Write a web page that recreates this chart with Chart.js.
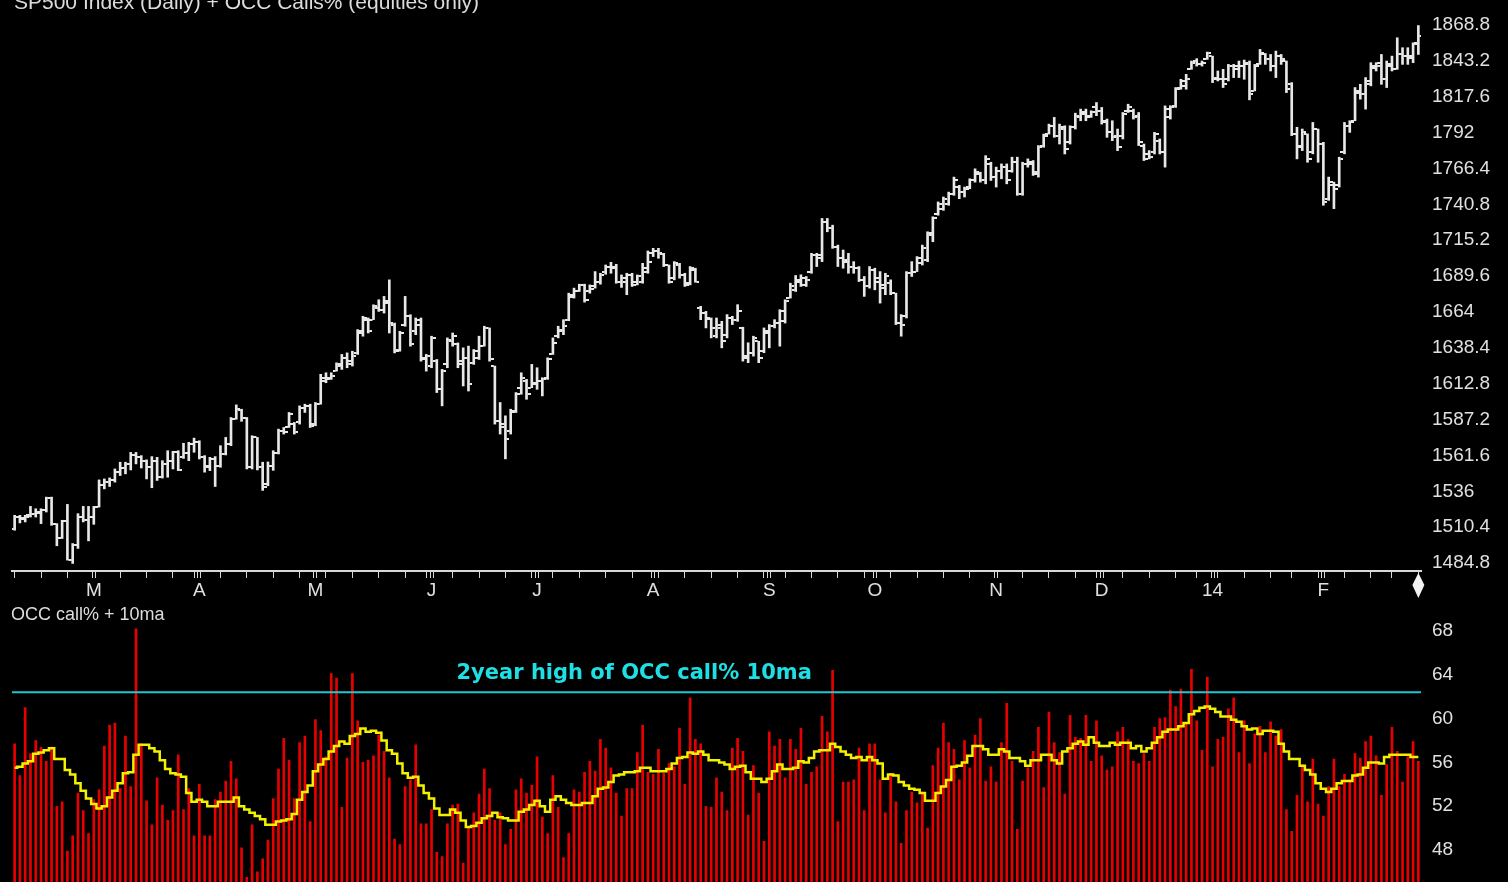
<!DOCTYPE html>
<html><head><meta charset="utf-8">
<script src="https://cdn.jsdelivr.net/npm/chart.js@4.4.1/dist/chart.umd.min.js"></script>
<style>
html,body{margin:0;padding:0;background:#000;width:1508px;height:882px;overflow:hidden;}
canvas{position:absolute;left:0;}
#top{top:0;}
#bot{top:598px;}
</style></head><body>
<canvas id="top" width="1508" height="606"></canvas>
<canvas id="bot" width="1508" height="284"></canvas>
<script>
// ---------- DATA ----------
const topTitle = 'SP500 Index (Daily) + OCC Calls% (equities only)';
const lowerTitle = 'OCC call% + 10ma';
const noteText = '2year high of OCC call% 10ma';
const twoYearHigh = 62.4;

const openP = [
1509.0,1517.7,1516.5,1518.9,1520.1,1521.3,1522.5,1531.4,1512.5,1502.4,
1514.9,1487.0,1497.6,1517.7,1515.4,1517.7,1524.8,1540.2,1542.6,1544.2,
1549.7,1552.7,1555.6,1562.2,1560.8,1557.9,1553.2,1557.9,1546.1,1555.6,
1557.9,1563.9,1560.3,1563.2,1569.8,1571.0,1560.3,1554.4,1559.1,1554.4,
1562.7,1569.8,1587.5,1593.9,1588.7,1553.2,1574.5,1553.2,1541.0,1554.0,
1563.2,1579.2,1581.6,1584.0,1585.2,1595.8,1597.0,1584.0,1598.2,1614.7,
1617.1,1621.8,1625.4,1631.3,1628.9,1634.8,1649.0,1658.5,1658.5,1666.8,
1665.6,1671.5,1655.0,1637.2,1655.0,1660.9,1650.2,1658.5,1631.3,1625.4,
1628.9,1608.8,1626.6,1643.1,1640.8,1628.9,1631.3,1627.7,1631.3,1639.6,
1652.6,1625.4,1586.4,1584.0,1579.3,1592.3,1610.0,1614.7,1610.0,1612.4,
1614.7,1617.1,1634.2,1646.7,1650.2,1658.5,1674.5,1679.1,1682.9,1678.6,
1682.2,1685.7,1692.8,1696.4,1696.4,1685.7,1685.7,1690.4,1685.7,1685.7,
1692.8,1705.8,1707.5,1705.1,1697.5,1688.1,1697.5,1690.4,1684.5,1694.0,
1666.8,1663.2,1659.2,1646.7,1652.6,1647.9,1659.7,1658.5,1652.6,1632.5,
1634.9,1643.1,1636.0,1649.0,1653.8,1656.1,1657.3,1673.9,1679.8,1685.7,
1683.4,1692.8,1704.6,1702.3,1728.3,1723.6,1710.6,1702.3,1699.9,1696.4,
1695.2,1686.9,1682.2,1694.0,1688.1,1683.4,1684.5,1677.4,1656.1,1660.9,
1691.6,1692.8,1698.7,1701.1,1718.8,1734.0,1737.7,1741.3,1748.3,1753.1,
1749.5,1753.1,1757.8,1762.5,1757.8,1769.6,1760.2,1764.9,1767.3,1764.9,
1770.8,1748.3,1769.6,1769.6,1762.5,1782.7,1790.9,1796.8,1789.7,1794.5,
1785.0,1795.7,1802.8,1805.1,1804.0,1809.9,1807.5,1800.4,1792.1,1789.7,
1789.7,1807.5,1807.5,1804.0,1782.7,1776.7,1778.0,1786.2,1777.9,1802.8,
1811.0,1824.1,1825.3,1837.1,1843.0,1840.6,1844.2,1846.5,1831.2,1830.0,
1830.0,1839.4,1837.1,1839.4,1840.6,1821.7,1840.6,1847.7,1844.2,1839.4,
1846.5,1843.0,1826.4,1791.0,1781.5,1790.9,1778.0,1794.5,1783.9,1744.8,
1754.3,1754.3,1778.0,1796.9,1800.4,1820.5,1819.3,1826.4,1838.2,1841.8,
1830.0,1839.4,1837.1,1847.7,1846.5,1845.4,1856.0];

const highP = [
1518.9,1518.9,1518.9,1525.3,1523.6,1523.6,1531.9,1531.9,1513.0,1515.4,
1526.7,1498.8,1520.1,1525.3,1525.3,1525.3,1544.2,1544.9,1545.6,1552.0,
1556.8,1556.8,1563.8,1563.8,1561.5,1558.5,1560.8,1560.3,1557.9,1565.0,
1564.6,1565.0,1570.3,1571.0,1574.0,1572.1,1561.5,1560.3,1560.8,1568.6,
1574.5,1588.7,1597.7,1594.6,1588.7,1575.7,1574.5,1556.8,1557.0,1565.0,
1580.4,1581.6,1592.3,1585.2,1597.0,1598.2,1598.2,1599.4,1619.5,1620.6,
1620.6,1627.7,1633.7,1634.8,1636.0,1651.4,1660.9,1659.7,1669.1,1672.7,
1675.1,1686.9,1656.1,1650.2,1675.1,1662.0,1659.7,1659.7,1633.7,1646.7,
1630.1,1623.0,1645.5,1649.0,1641.9,1638.4,1639.6,1637.2,1646.7,1653.8,
1652.6,1625.4,1599.4,1589.9,1594.6,1606.5,1620.6,1615.9,1626.6,1624.2,
1617.1,1631.3,1645.5,1653.8,1658.5,1677.4,1681.0,1683.8,1683.8,1683.3,
1692.8,1691.6,1697.5,1699.4,1698.0,1690.4,1691.6,1691.6,1690.4,1698.7,
1707.5,1709.4,1709.4,1705.8,1697.5,1699.9,1698.7,1691.6,1696.4,1695.2,
1668.0,1664.4,1659.7,1659.7,1657.3,1662.1,1660.9,1669.2,1653.1,1642.0,
1646.7,1643.1,1652.6,1655.0,1658.5,1665.6,1672.7,1684.5,1690.0,1690.5,
1689.3,1705.8,1705.8,1730.7,1730.7,1725.9,1711.7,1708.2,1705.8,1699.9,
1696.4,1689.3,1696.4,1695.2,1692.8,1691.6,1686.9,1677.4,1662.1,1692.8,
1699.9,1703.5,1711.7,1721.2,1731.9,1742.5,1746.0,1749.5,1760.2,1754.3,
1753.1,1759.0,1766.1,1763.7,1775.5,1770.8,1767.3,1769.6,1769.6,1774.4,
1774.4,1770.8,1773.2,1772.0,1782.7,1790.9,1798.0,1802.8,1798.0,1796.8,
1796.8,1805.8,1808.7,1808.7,1807.5,1813.4,1809.9,1801.6,1800.4,1794.5,
1806.3,1812.2,1808.7,1806.3,1783.8,1779.1,1792.1,1787.4,1811.0,1811.1,
1824.1,1830.0,1833.5,1843.0,1844.7,1843.0,1849.4,1846.5,1835.9,1837.1,
1840.6,1840.6,1843.0,1843.7,1843.0,1840.6,1851.3,1848.4,1847.7,1850.1,
1847.7,1843.0,1827.6,1795.7,1794.5,1791.0,1799.2,1794.5,1785.0,1760.2,
1756.6,1774.4,1799.2,1800.4,1824.1,1826.4,1831.2,1841.8,1841.8,1847.7,
1843.0,1846.5,1859.6,1852.5,1852.5,1856.0,1868.3];

const lowP = [
1508.3,1513.5,1514.2,1517.7,1517.7,1513.0,1521.3,1511.8,1497.2,1502.4,
1487.0,1484.6,1495.3,1514.2,1500.7,1512.5,1524.8,1537.8,1539.5,1542.6,
1547.3,1548.5,1551.3,1555.6,1552.7,1544.9,1538.6,1543.8,1545.5,1546.1,
1552.0,1550.8,1559.5,1557.9,1563.9,1559.1,1549.7,1550.8,1539.5,1553.2,
1562.0,1568.6,1587.5,1586.0,1552.0,1552.0,1551.3,1536.7,1540.0,1551.0,
1562.7,1576.9,1581.6,1576.9,1584.0,1592.3,1581.6,1582.8,1598.2,1613.5,
1615.9,1621.8,1623.0,1624.2,1625.4,1633.7,1646.7,1649.0,1658.5,1664.4,
1663.2,1649.0,1634.8,1636.0,1653.8,1639.6,1647.8,1628.9,1621.8,1624.2,
1606.5,1597.0,1624.2,1639.6,1624.2,1611.2,1607.6,1626.6,1630.1,1639.6,
1628.9,1584.0,1576.9,1559.2,1576.9,1592.3,1605.3,1601.7,1610.0,1608.8,
1604.1,1615.9,1633.7,1645.5,1647.8,1657.8,1673.9,1678.6,1671.0,1677.4,
1681.0,1683.8,1690.9,1691.6,1684.5,1681.5,1676.3,1682.2,1683.3,1684.5,
1691.6,1703.5,1702.3,1696.4,1684.5,1686.9,1688.1,1682.2,1683.3,1685.2,
1658.5,1652.6,1645.5,1645.5,1638.4,1645.5,1655.0,1657.3,1628.9,1627.8,
1632.5,1627.8,1634.9,1638.4,1652.6,1639.6,1656.1,1673.9,1678.6,1682.2,
1682.2,1691.6,1696.4,1699.9,1721.2,1709.4,1696.4,1695.2,1691.6,1691.6,
1685.7,1675.1,1681.0,1679.8,1670.3,1676.3,1676.3,1655.0,1646.7,1659.7,
1689.3,1692.8,1697.5,1699.9,1714.1,1733.0,1736.5,1740.1,1747.2,1744.8,
1746.0,1751.9,1756.6,1756.6,1755.4,1757.8,1753.1,1759.0,1755.4,1763.7,
1747.2,1747.2,1767.3,1761.4,1760.2,1781.5,1790.9,1788.6,1783.8,1776.7,
1783.8,1794.5,1800.4,1800.4,1802.8,1804.0,1798.0,1788.6,1786.2,1779.1,
1787.4,1806.3,1801.6,1782.7,1772.0,1773.2,1776.7,1776.7,1767.3,1801.6,
1809.9,1822.9,1822.9,1837.1,1839.4,1839.4,1844.2,1827.6,1828.8,1824.1,
1828.8,1831.2,1831.2,1830.0,1815.3,1821.7,1840.6,1840.6,1835.9,1831.2,
1840.6,1820.5,1789.8,1773.2,1779.1,1770.8,1776.8,1770.8,1740.1,1743.6,
1737.7,1753.1,1776.8,1792.1,1800.4,1815.8,1808.7,1825.3,1835.9,1826.4,
1824.1,1835.9,1837.1,1840.6,1840.6,1841.8,1847.7];

const closeP = [
1517.7,1517.2,1517.7,1520.1,1520.6,1522.5,1531.4,1512.5,1502.4,1514.9,
1487.0,1497.6,1517.7,1515.4,1517.7,1524.8,1540.2,1542.6,1544.2,1549.7,
1552.7,1555.6,1562.2,1560.8,1557.9,1553.2,1557.9,1546.1,1555.6,1557.9,
1563.9,1551.3,1563.2,1569.8,1571.0,1560.3,1553.2,1559.1,1554.4,1562.7,
1569.8,1587.5,1594.6,1588.7,1553.2,1574.5,1553.2,1539.0,1554.0,1563.2,
1579.2,1578.1,1591.1,1578.1,1595.8,1597.0,1582.8,1598.2,1617.1,1615.9,
1618.3,1626.6,1631.3,1626.6,1632.5,1650.2,1659.7,1650.2,1668.0,1665.6,
1670.3,1656.1,1636.0,1649.0,1660.9,1640.8,1655.0,1630.1,1632.5,1645.5,
1608.8,1621.8,1644.3,1646.7,1626.6,1631.3,1612.4,1636.0,1639.6,1652.6,
1630.1,1586.4,1581.6,1573.3,1593.5,1605.3,1617.1,1605.3,1613.6,1614.7,
1615.9,1630.1,1642.0,1651.4,1653.8,1676.3,1679.1,1682.9,1672.7,1680.5,
1685.7,1690.4,1696.4,1695.2,1685.7,1688.1,1690.4,1683.3,1689.3,1695.2,
1699.9,1707.5,1705.8,1697.5,1685.7,1698.7,1690.4,1683.3,1695.2,1685.7,
1663.2,1659.7,1652.6,1654.9,1643.1,1659.7,1658.5,1664.4,1631.3,1634.9,
1645.5,1631.3,1650.2,1653.8,1656.1,1664.4,1671.5,1682.2,1686.9,1688.1,
1686.9,1704.6,1704.6,1728.3,1723.6,1710.6,1702.3,1701.1,1696.4,1695.2,
1686.9,1682.2,1694.0,1685.7,1681.0,1689.3,1677.4,1656.1,1655.0,1691.6,
1692.8,1702.3,1709.4,1720.0,1730.7,1741.3,1744.8,1748.3,1757.8,1749.5,
1751.9,1757.8,1763.7,1757.8,1773.2,1760.2,1764.9,1767.3,1757.8,1770.8,
1748.3,1769.6,1770.8,1763.7,1781.5,1789.7,1796.8,1789.7,1795.7,1780.3,
1795.7,1804.0,1806.3,1802.8,1806.3,1807.5,1799.2,1792.1,1788.6,1781.5,
1805.1,1809.9,1802.8,1785.0,1773.2,1774.4,1790.9,1777.9,1808.7,1809.9,
1822.9,1828.8,1830.0,1841.8,1840.6,1841.8,1848.4,1830.0,1830.0,1826.4,
1839.4,1839.4,1839.4,1841.8,1819.3,1839.4,1848.9,1844.2,1839.4,1846.5,
1844.2,1822.9,1791.0,1782.7,1792.1,1773.2,1794.5,1783.9,1742.4,1756.6,
1751.9,1773.2,1796.9,1799.2,1821.7,1819.3,1828.8,1839.4,1839.4,1830.0,
1840.6,1837.1,1847.7,1846.5,1846.5,1854.8,1860.7];

const callPct = [
57.7,54.8,61.0,56.8,58.0,57.4,56.1,57.4,52.0,52.4,
47.9,49.3,53.2,51.6,49.5,52.6,53.5,57.5,59.4,59.6,
53.6,58.4,53.8,68.2,57.7,52.5,50.3,54.6,52.1,50.7,
51.6,56.7,51.7,53.6,49.3,54.0,49.3,49.3,52.6,53.3,
54.3,56.1,54.5,48.2,45.5,50.3,46.0,47.2,48.9,52.7,
55.4,58.2,56.2,52.7,57.8,58.4,50.6,59.9,58.9,56.5,
64.1,63.7,51.9,56.4,64.1,59.8,56.0,56.2,56.6,58.5,
57.0,54.6,49.0,48.5,53.8,54.4,57.6,50.4,50.4,51.7,
47.8,47.4,50.4,52.1,52.2,46.8,50.1,51.4,53.1,55.4,
53.6,50.7,51.4,48.5,49.9,53.5,54.5,53.2,53.9,56.5,
51.0,49.5,54.8,51.9,47.3,49.5,53.5,53.3,55.1,56.1,
55.2,58.1,57.3,55.5,53.2,51.1,53.6,53.6,56.9,59.4,
55.1,54.9,57.2,55.0,55.9,55.6,59.1,54.0,61.9,58.1,
57.7,52.0,51.9,54.6,53.3,51.6,57.3,58.2,57.0,51.2,
55.7,53.2,48.8,58.8,57.5,58.1,54.6,58.1,57.2,59.1,
54.0,55.1,55.6,60.2,58.8,64.4,50.6,54.2,54.2,54.4,
57.3,51.6,57.7,57.7,54.4,51.4,55.0,52.4,48.6,51.6,
53.3,52.3,53.3,50.0,55.7,57.3,59.6,57.8,57.2,54.4,
58.0,55.5,58.5,60.0,54.3,55.6,54.2,57.8,61.4,56.1,
49.9,54.3,55.5,57.0,59.2,53.7,60.6,57.8,56.9,53.1,
60.3,58.3,58.2,60.3,56.1,59.8,56.6,55.3,55.6,58.8,
59.2,58.1,56.1,55.9,56.8,56.1,59.2,60.0,60.1,62.6,
61.1,62.7,59.6,64.5,59.8,57.1,63.8,55.6,58.1,58.3,
60.9,61.9,56.9,59.8,55.9,58.6,59.3,56.9,59.7,58.4,
59.0,51.7,49.7,53.0,55.8,52.4,56.3,52.2,51.1,53.8,
56.3,53.8,54.9,54.4,56.8,56.4,57.9,58.4,56.6,53.0,
55.8,59.2,57.0,54.2,56.5,57.9,56.1];

const ma10 = [
55.5,55.6,55.9,56.1,56.8,56.9,57.1,57.3,56.3,56.3,
55.3,54.9,54.1,53.4,52.7,52.2,51.8,52.0,52.8,53.4,
54.1,55.0,55.1,56.7,57.6,57.6,57.3,57.0,56.2,55.4,
55.0,54.9,54.7,53.2,52.4,52.6,52.4,52.0,52.0,52.4,
52.4,52.4,52.8,52.0,51.7,51.4,51.1,50.8,50.3,50.3,
50.6,50.7,50.8,51.3,52.6,53.3,53.9,55.2,55.8,56.3,
57.0,57.5,57.9,57.7,58.4,58.6,59.1,58.8,58.9,58.7,
58.0,57.1,56.8,55.9,55.0,54.6,54.7,53.9,53.2,52.7,
51.8,51.2,51.2,51.7,51.4,50.7,50.1,50.2,50.5,50.9,
51.1,51.4,51.0,50.9,50.7,50.7,51.5,51.7,52.1,52.5,
52.0,51.5,52.6,52.9,52.6,52.3,52.1,52.1,52.3,52.3,
52.9,53.6,53.7,54.2,54.8,54.9,55.1,55.1,55.2,55.5,
55.5,55.2,55.2,55.2,55.4,55.9,56.4,56.5,56.9,56.8,
57.0,56.7,56.2,56.2,56.0,55.8,55.4,55.6,55.7,55.1,
54.5,54.5,54.2,54.5,55.2,55.8,55.4,55.4,55.5,56.1,
56.0,56.4,57.0,57.1,57.1,57.7,57.4,57.0,56.7,56.4,
56.5,56.2,56.5,56.2,55.9,54.5,54.9,54.8,54.2,53.9,
53.6,53.5,53.2,52.5,52.5,53.2,53.8,54.4,55.6,55.7,
56.0,56.6,57.5,57.5,57.2,56.7,56.7,57.2,57.0,56.4,
56.4,56.1,55.7,56.2,56.2,56.7,56.7,56.2,55.9,57.0,
57.3,57.7,57.9,57.6,58.3,57.8,57.5,57.5,57.8,57.6,
57.8,57.8,57.3,57.5,57.0,57.3,57.8,58.3,58.8,59.0,
59.0,59.3,59.6,60.4,60.7,61.0,61.1,60.9,60.6,60.2,
60.2,59.9,59.7,59.3,59.0,59.1,58.6,58.9,58.9,58.8,
57.7,57.0,56.3,56.3,55.7,55.3,54.9,54.1,53.6,53.3,
53.6,54.1,54.3,54.3,54.8,54.9,55.5,56.0,56.0,55.9,
56.5,56.7,56.7,56.7,56.7,56.5,56.5];

const priceTicks = [1484.8,1510.4,1536,1561.6,1587.2,1612.8,1638.4,1664,1689.6,1715.2,1740.8,1766.4,1792,1817.6,1843.2,1868.8];
const priceTickLabels = ['1484.8','1510.4','1536','1561.6','1587.2','1612.8','1638.4','1664','1689.6','1715.2','1740.8','1766.4','1792','1817.6','1843.2','1868.8'];
const callTicks = [48,52,56,60,64,68];
const callTickLabels = ['48','52','56','60','64','68'];
const monthTickIdx = [15,35,57,79,99,121,143,163,186,206,227,248];
const monthLabels = ['M','A','M','J','J','A','S','O','N','D','14','F'];
const weekTickIdx = [0,5,10,15,20,25,30,34,39,44,49,54,59,64,69,74,78,83,88,93,98,102,107,112,117,122,127,132,137,142,146,151,156,161,166,171,176,181,186,191,196,201,205,210,215,220,224,228,233,238,242,247,252,257,261,266];

// ---------- SETUP ----------
const N = closeP.length;
const xMin = -0.5, xMax = N - 0.5;
const topYMin = 1479.2, topYMax = 1884.4;
const botYMin = 45.08, botYMax = 71.01;
const noteCenterIdx = 117.4;

Chart.defaults.font.family = '"Liberation Sans", Arial, sans-serif';
Chart.defaults.color = '#e0e0e0';

const monthMark = 0.28;
const xTickValues = [];
monthTickIdx.forEach(m => { xTickValues.push(m - monthMark, m, m + monthMark); });
weekTickIdx.forEach(w => { if (!monthTickIdx.some(m => Math.abs(m - w) < 0.6)) xTickValues.push(w); });
xTickValues.sort((a, b) => a - b);
const monthLabelFor = v => { const k = monthTickIdx.indexOf(v); return k >= 0 ? monthLabels[k] : ''; };

function findLabel(vals, labels, v) {
  for (let k = 0; k < vals.length; k++) if (Math.abs(vals[k] - v) < 1e-6) return labels[k];
  return '';
}

function tickImg(side) {
  const c = document.createElement('canvas');
  c.width = 8; c.height = 2;
  const g = c.getContext('2d');
  g.fillStyle = '#e8e8e8';
  g.fillRect(side < 0 ? 0 : 5, 0, 3, 2);
  return c;
}

const topDeco = {
  id: 'topDeco',
  afterDraw(chart) {
    const {ctx, chartArea, scales} = chart;
    ctx.save();
    ctx.font = '21px "Liberation Sans", Arial, sans-serif';
    ctx.fillStyle = '#dcdcdc';
    ctx.textAlign = 'left';
    ctx.textBaseline = 'alphabetic';
    ctx.fillText(topTitle, 14, 9);
    const cx = scales.x.getPixelForValue(N - 1);
    const t = chartArea.bottom + 2;
    ctx.fillStyle = '#f2f2f2';
    ctx.beginPath();
    ctx.moveTo(cx, t); ctx.lineTo(cx + 6, t + 12); ctx.lineTo(cx, t + 25); ctx.lineTo(cx - 6, t + 12);
    ctx.closePath(); ctx.fill();
    ctx.restore();
  }
};

new Chart(document.getElementById('top'), {
  type: 'bar',
  data: {
    datasets: [
      {type: 'bar', data: highP.map((h, i) => ({x: i, y: [lowP[i], h]})), backgroundColor: '#e8e8e8', barThickness: 2, order: 1},
      {type: 'line', data: openP.map((v, i) => ({x: i, y: v})), showLine: false, pointStyle: tickImg(-1), pointRadius: 2, pointHoverRadius: 0, order: 0},
      {type: 'line', data: closeP.map((v, i) => ({x: i, y: v})), showLine: false, pointStyle: tickImg(1), pointRadius: 2, pointHoverRadius: 0, order: 0}
    ]
  },
  options: {
    responsive: false, animation: false, devicePixelRatio: 1, events: [],
    layout: {padding: {left: 12, right: 0, top: 0, bottom: 0}},
    plugins: {legend: {display: false}, tooltip: {enabled: false}, title: {display: false}},
    scales: {
      x: {
        type: 'linear', min: xMin, max: xMax, offset: false, position: 'bottom',
        grid: {display: true, drawOnChartArea: false, drawTicks: true, tickLength: 7, lineWidth: 1, offset: false,
               color: c => (c.tick && monthTickIdx.indexOf(c.tick.value) >= 0) ? 'rgba(0,0,0,0)' : '#d8d8d8'},
        border: {display: true, color: '#d8d8d8', width: 2},
        ticks: {autoSkip: false, maxRotation: 0, minRotation: 0, padding: 1, font: {size: 19}, color: '#e0e0e0',
                callback: v => monthLabelFor(v)},
        afterBuildTicks: s => { s.ticks = xTickValues.map(v => ({value: v})); },
        afterFit: s => { s.height = 35; s.paddingLeft = 0; s.paddingRight = 0; }
      },
      y: {
        type: 'linear', position: 'right', min: topYMin, max: topYMax,
        grid: {display: false, drawTicks: false}, border: {display: false},
        ticks: {padding: 11, font: {size: 19}, color: '#e0e0e0', callback: v => findLabel(priceTicks, priceTickLabels, v)},
        afterBuildTicks: s => { s.ticks = priceTicks.map(v => ({value: v})); },
        afterFit: s => { s.width = 87; s.paddingTop = 0; s.paddingBottom = 0; }
      }
    }
  },
  plugins: [topDeco]
});

const botDeco = {
  id: 'botDeco',
  afterDatasetsDraw(chart) {
    const {ctx, chartArea, scales} = chart;
    const y = scales.y.getPixelForValue(twoYearHigh);
    ctx.save();
    ctx.strokeStyle = '#1ec8cf';
    ctx.lineWidth = 2;
    ctx.beginPath(); ctx.moveTo(chartArea.left, y); ctx.lineTo(chartArea.right, y); ctx.stroke();
    ctx.font = 'bold 21px "DejaVu Sans", Verdana, sans-serif';
    ctx.fillStyle = '#1ee0e4';
    ctx.textAlign = 'center';
    ctx.textBaseline = 'middle';
    ctx.fillText(noteText, scales.x.getPixelForValue(noteCenterIdx), y - 19);
    ctx.font = '18px "Liberation Sans", Arial, sans-serif';
    ctx.fillStyle = '#dcdcdc';
    ctx.textAlign = 'left';
    ctx.fillText(lowerTitle, 11, 17);
    ctx.restore();
  }
};

new Chart(document.getElementById('bot'), {
  type: 'bar',
  data: {
    datasets: [
      {type: 'line', data: ma10.map((v, i) => ({x: i, y: v})), stepped: 'middle', borderColor: '#f2f200', borderWidth: 2.5, pointRadius: 0, pointHoverRadius: 0, fill: false, order: 0},
      {type: 'bar', data: callPct.map((v, i) => ({x: i, y: v})), backgroundColor: '#e80000', barThickness: 2, order: 1}
    ]
  },
  options: {
    responsive: false, animation: false, devicePixelRatio: 1, events: [],
    layout: {padding: {left: 12, right: 0, top: 0, bottom: 0}},
    plugins: {legend: {display: false}, tooltip: {enabled: false}, title: {display: false}},
    scales: {
      x: {type: 'linear', min: xMin, max: xMax, offset: false, display: false, grid: {offset: false}},
      y: {
        type: 'linear', position: 'right', min: botYMin, max: botYMax,
        grid: {display: false, drawTicks: false}, border: {display: false},
        ticks: {padding: 11, font: {size: 19}, color: '#e0e0e0', callback: v => findLabel(callTicks, callTickLabels, v)},
        afterBuildTicks: s => { s.ticks = callTicks.map(v => ({value: v})); },
        afterFit: s => { s.width = 87; s.paddingTop = 0; s.paddingBottom = 0; }
      }
    }
  },
  plugins: [botDeco]
});
</script>
</body></html>
